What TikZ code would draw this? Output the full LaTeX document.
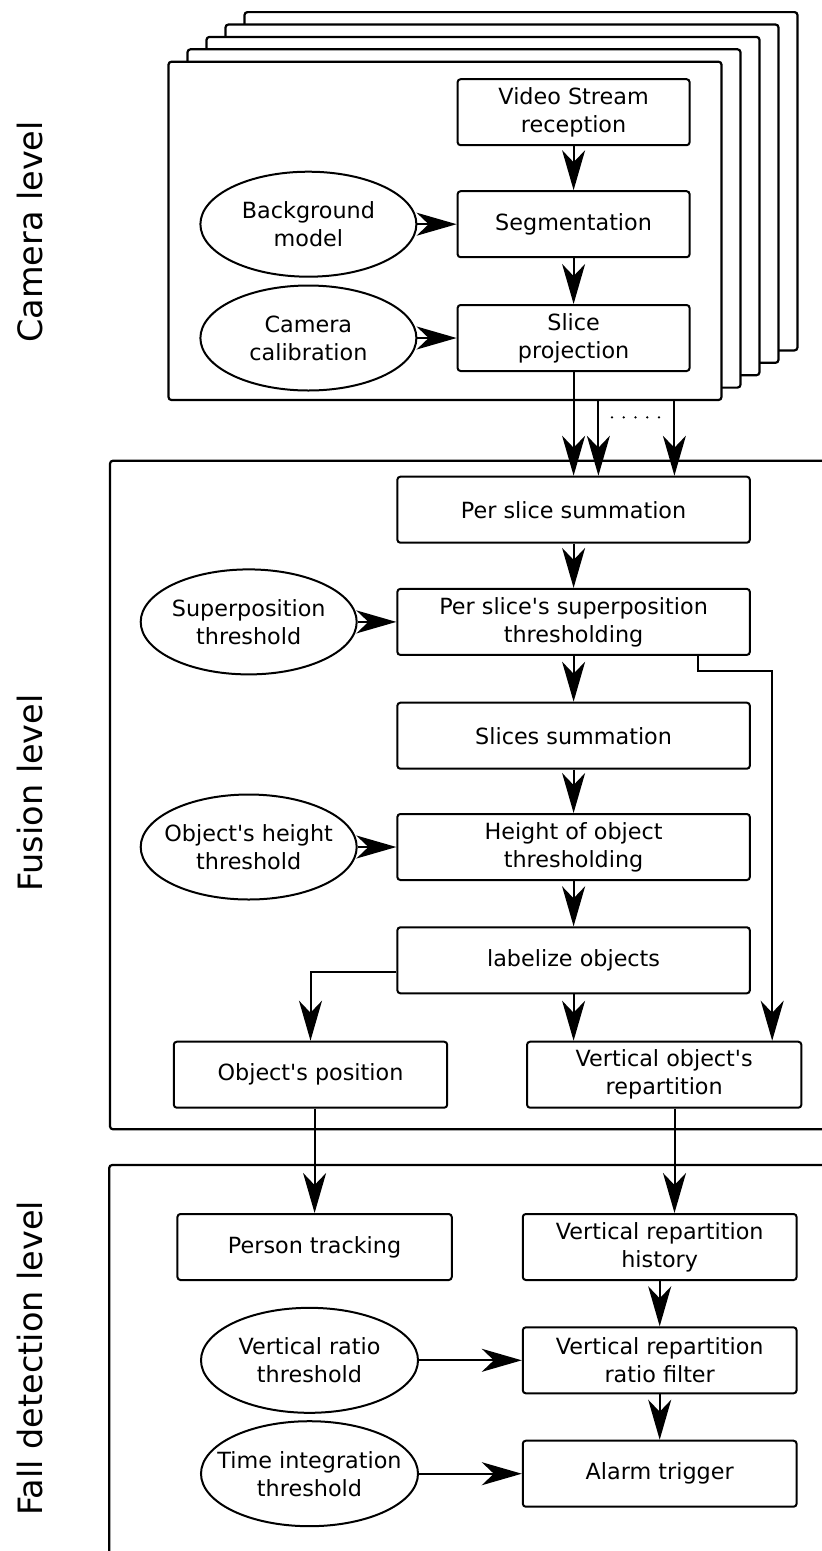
\documentclass[tikz,border=0pt]{standalone}
\usepackage{fontspec}
\setmainfont{DejaVu Sans}[Ligatures=TeXOff]
\usetikzlibrary{arrows.meta,shapes.geometric}
\begin{document}
\begin{tikzpicture}[x=1pt,y=-1pt,
  box/.style={draw,line width=2pt,rounded corners=3pt,minimum width=#1,minimum height=66pt,inner sep=0pt,align=center,font=\fontsize{22.3}{28}\selectfont},
  ell/.style={draw,line width=2pt,ellipse,minimum width=216pt,minimum height=105pt,inner sep=0pt},
  etxt/.style={inner sep=0pt,align=center,font=\fontsize{22.3}{28}\selectfont},
  frm/.style={draw,line width=2.2pt,rounded corners=3pt,fill=white,inner sep=0pt},
  arr/.style={line width=2pt,-{Stealth[length=40pt,width=23pt,inset=12pt]}},
  lvl/.style={rotate=90,font=\fontsize{33.5}{40}\selectfont,inner sep=0pt}]
\useasboundingbox (0,0) rectangle (822,1551);
\clip (0,0) rectangle (822,1551);
% level frames
\draw[frm] (110,460.7) rectangle (900,1129.3);
\draw[frm] (109.2,1165) rectangle (900,1700);
% camera stack
\foreach \k in {4,3,2,1}
  \node[frm,minimum width=553pt,minimum height=338.3pt] (camb\k) at ({445+19*\k},{230.85-12.4*\k}) {};
\node[frm,minimum width=553pt,minimum height=338.3pt] (cam) at (445,230.85) {};
% level labels
\node[lvl] (l1) at (30,232) {Camera level};
\node[lvl] (l2) at (30,793) {Fusion level};
\node[lvl] (l3) at (30,1358) {Fall detection level};
% camera level
\node[box=232pt] (vid) at (573.6,112.2) {Video Stream\\reception};
\node[box=232pt] (seg) at (573.6,224.2) {Segmentation};
\node[box=232pt] (slp) at (573.6,338) {Slice\\projection};
\node[ell] (bgm) at (308.4,224.2) {};
\node[etxt] (bgmt) at (bgm) {Background\\model};
\node[ell] (cal) at (308.4,338) {};
\node[etxt] (calt) at (cal) {Camera\\calibration};
% fusion level
\node[box=352.5pt] (pss) at (573.6,509.7) {Per slice summation};
\node[box=352.5pt] (sup) at (573.6,621.9) {Per slice's superposition\\thresholding};
\node[box=352.5pt] (ssum) at (573.6,735.7) {Slices summation};
\node[box=352.5pt] (hgt) at (573.6,847) {Height of object\\thresholding};
\node[box=352.5pt] (lab) at (573.6,960.3) {labelize objects};
\node[box=273.4pt] (pos) at (310.5,1074.7) {Object's position};
\node[box=274.3pt] (vob) at (664.2,1074.7) {Vertical object's\\repartition};
\node[ell] (supt) at (248.7,621.9) {};
\node[etxt] (suptt) at (supt) {Superposition\\threshold};
\node[ell] (hgtt) at (248.7,847) {};
\node[etxt] (hgttt) at (hgtt) {Object's height\\threshold};
% fall detection level
\node[box=274.3pt] (trk) at (314.6,1247) {Person tracking};
\node[box=273.8pt] (vrh) at (659.7,1247) {Vertical repartition\\history};
\node[box=273.8pt] (vrf) at (659.7,1360.3) {Vertical repartition\\ratio filter};
\node[box=273.8pt] (alm) at (659.7,1473.7) {Alarm trigger};
\node[ell,minimum width=217pt] (vrt) at (309.5,1360.3) {};
\node[etxt] (vrtt) at (vrt) {Vertical ratio\\threshold};
\node[ell,minimum width=217pt] (tit) at (309.5,1473.7) {};
\node[etxt] (titt) at (tit) {Time integration\\threshold};
% connectors camera
\draw[arr] (vid) -- (seg);
\draw[arr] (seg) -- (slp);
\draw[arr] (bgm) -- (seg);
\draw[arr] (cal) -- (slp);
\coordinate (o2) at (598.4,400.7);
\coordinate (o3) at (674.4,400.7);
\draw[arr] (slp.south) -- (slp.south |- pss.north);
\draw[arr] (o2) -- (o2 |- pss.north);
\draw[arr] (o3) -- (o3 |- pss.north);
\foreach \i in {0,...,4} \fill ({612+11.75*\i},417.3) circle (1.3pt);
% connectors fusion
\draw[arr] (pss) -- (sup);
\draw[arr] (sup) -- (ssum);
\draw[arr] (ssum) -- (hgt);
\draw[arr] (hgt) -- (lab);
\draw[arr] (supt) -- (sup);
\draw[arr] (hgtt) -- (hgt);
\draw[arr] (lab.south) -- (lab.south |- vob.north);
\draw[arr] ([xshift=123.9pt]sup.south) -- ++(0,15) -| ([xshift=108pt]vob.north);
\draw[arr] ([yshift=-12pt]lab.west) -| (pos.north);
% connectors fall detection
\draw[arr] (pos.south -| trk.north) -- (trk.north);
\draw[arr] ([xshift=10.3pt]vob.south) -- ([xshift=10.3pt]vob.south |- vrh.north);
\draw[arr] (vrh) -- (vrf);
\draw[arr] (vrf) -- (alm);
\draw[arr] (vrt) -- (vrf);
\draw[arr] (tit) -- (alm);
\end{tikzpicture}
\end{document}
